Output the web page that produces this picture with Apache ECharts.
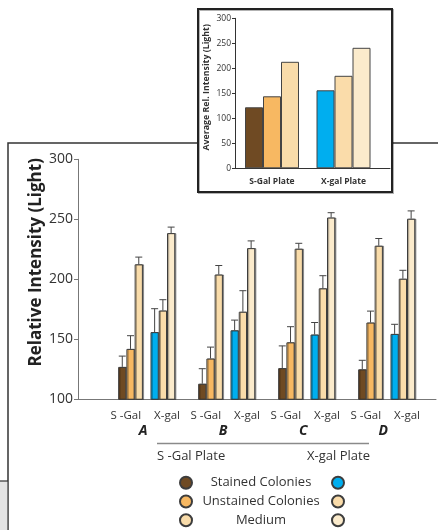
<!DOCTYPE html>
<html><head><meta charset="utf-8">
<script src="https://cdn.jsdelivr.net/npm/echarts@6/dist/echarts.min.js"></script>
<style>html,body{margin:0;padding:0;background:#fff}#c{width:438px;height:530px}</style>
</head><body><div id="c"></div>
<script>
// ---- data ----
const categories = ['A', 'B', 'C', 'D'];
const yTicks = [100, 150, 200, 250, 300];
const sGalStained   = [127, 113, 126, 125];
const sGalUnstained = [142, 134, 147.5, 164];
const sGalMedium    = [212.5, 204, 225.5, 228];
const xGalStained   = [156, 157.5, 154, 154.5];
const xGalUnstained = [174, 173, 192.5, 200.5];
const xGalMedium    = [238.5, 226, 251.5, 250.5];
const errSStained   = [9, 12.5, 18.5, 7.5];
const errSUnstained = [11, 9.5, 13, 9.5];
const errSMedium    = [6, 7.5, 4.5, 6];
const errXStained   = [19.5, 8.5, 10, 8];
const errXUnstained = [9, 17.5, 10.5, 7];
const errXMedium    = [5, 6, 4, 6.5];
const insetCategories = ['S-Gal Plate', 'X-gal Plate'];
const insetStained   = [122, 156];
const insetUnstained = [144, 185];
const insetMedium    = [213, 241];
const legendNames = ['Stained Colonies', 'Unstained Colonies', 'Medium'];

// ---- styles ----
const FONT = 'Open Sans';
const C_BROWN = '#6f4a23', C_ORANGE = '#f7b862', C_LIGHT = '#f9dcaa', C_BLUE = '#00aeef', C_XLIGHT = '#fadcaa', C_XLIGHTER = '#fbebcc';
const BW = 8.25, SP = 7.6;
const border = { borderColor: '#3d3d3d', borderWidth: 1, shadowColor: 'rgba(0,0,0,0.35)', shadowOffsetX: 1.2, shadowBlur: 0 };

function offsetOf(k) {
  const total = 6 * BW + SP;
  return -total / 2 + BW * k + BW / 2 + (k >= 3 ? SP : 0);
}

const mainSets = [
  { name: 'Stained Colonies', vals: sGalStained, errs: sGalStained.map((v, i) => v + errSStained[i]), color: C_BROWN },
  { name: 'Unstained Colonies', vals: sGalUnstained, errs: sGalUnstained.map((v, i) => v + errSUnstained[i]), color: C_ORANGE },
  { name: 'Medium', vals: sGalMedium, errs: sGalMedium.map((v, i) => v + errSMedium[i]), color: C_LIGHT },
  { name: 'X Stained Colonies', vals: xGalStained, errs: xGalStained.map((v, i) => v + errXStained[i]), color: C_BLUE },
  { name: 'X Unstained Colonies', vals: xGalUnstained, errs: xGalUnstained.map((v, i) => v + errXUnstained[i]), color: C_XLIGHT },
  { name: 'X Medium', vals: xGalMedium, errs: xGalMedium.map((v, i) => v + errXMedium[i]), color: C_XLIGHTER }
];

const series = [];
mainSets.forEach((s, k) => {
  if (k === 3) {
    series.push({ type: 'bar', name: 'spacer', xAxisIndex: 1, yAxisIndex: 1, data: categories.map(() => '-'), barWidth: SP, barGap: '0%', silent: true });
  }
  series.push({ type: 'bar', name: s.name, xAxisIndex: 1, yAxisIndex: 1, data: s.vals, barWidth: BW, barGap: '0%',
    itemStyle: Object.assign({ color: s.color }, border), z: 2 });
});
mainSets.forEach((s, k) => {
  series.push({
    type: 'custom', name: 'err' + k, xAxisIndex: 1, yAxisIndex: 1, z: 3, silent: true,
    data: categories.map((c, j) => [j, s.vals[j], s.errs[j]]),
    encode: { x: 0, y: [1, 2] },
    renderItem: function (params, api) {
      const j = api.value(0);
      const b = api.coord([j, api.value(1)]);
      const t = api.coord([j, api.value(2)]);
      const x = b[0] + offsetOf(k);
      const st = { stroke: '#444', lineWidth: 1 };
      return { type: 'group', children: [
        { type: 'line', shape: { x1: x, y1: b[1], x2: x, y2: t[1] }, style: st },
        { type: 'line', shape: { x1: x - 3.5, y1: t[1], x2: x + 3.5, y2: t[1] }, style: st }
      ] };
    }
  });
});
// inset
const insetColors = [[C_BROWN, C_BLUE], [C_ORANGE, C_XLIGHT], [C_LIGHT, C_XLIGHTER]];
[insetStained, insetUnstained, insetMedium].forEach((arr, k) => {
  series.push({ type: 'bar', name: 'inset' + k, xAxisIndex: 3, yAxisIndex: 3, barWidth: 18, barGap: '0%',
    data: arr.map((v, i) => ({ value: v, itemStyle: Object.assign({ color: insetColors[k][i] }, { borderColor: '#444', borderWidth: 1 }) })) });
});

const mainTop = 159.3, mainBottom = 530 - 399.3;
const insTop = 18.3, insBottom = 530 - 168.3;

const option = {
  animation: false,
  textStyle: { fontFamily: FONT },
  grid: [
    { left: 78, right: 2, top: mainTop, bottom: mainBottom },
    { left: 106.7, right: 438 - 426.7, top: mainTop, bottom: mainBottom },
    { left: 235, right: 48, top: insTop, bottom: insBottom },
    { left: 236.25, right: 438 - 379.25, top: insTop, bottom: insBottom }
  ],
  xAxis: [
    { gridIndex: 0, type: 'category', data: [''], axisLine: { lineStyle: { color: '#777', width: 1 } }, axisTick: { show: false }, axisLabel: { show: false } },
    { gridIndex: 1, type: 'category', data: categories, axisLine: { show: false }, axisTick: { show: false },
      axisLabel: { interval: 0, margin: 9, color: '#333', fontFamily: FONT,
        formatter: v => '{a|S -Gal}{g|}{b|X-gal}\n{c|' + v + '}',
        rich: {
          a: { fontSize: 11.5, lineHeight: 14, color: '#333', fontFamily: FONT },
          g: { width: 13, lineHeight: 14 },
          b: { fontSize: 11.5, lineHeight: 14, color: '#333', fontFamily: FONT, padding: [0, 3, 0, 0] },
          c: { fontSize: 14, lineHeight: 17, fontWeight: 'bold', fontStyle: 'italic', color: '#222', fontFamily: FONT, padding: [0, 7, 0, 0] }
        } } },
    { gridIndex: 2, type: 'category', data: [''], axisLine: { lineStyle: { color: '#333', width: 1 } }, axisTick: { show: false }, axisLabel: { show: false } },
    { gridIndex: 3, type: 'category', data: insetCategories, axisLine: { show: false }, axisTick: { show: false },
      axisLabel: { margin: 9, fontSize: 8.5, fontWeight: 'bold', color: '#333', fontFamily: FONT } }
  ],
  yAxis: [
    { gridIndex: 0, type: 'value', min: 100, max: 300, interval: 50, splitLine: { show: false },
      axisLine: { show: true, lineStyle: { color: '#777' } }, axisTick: { show: true, length: 4, lineStyle: { color: '#777' } },
      axisLabel: { fontSize: 14, color: '#333', margin: 5, fontFamily: FONT } },
    { gridIndex: 1, type: 'value', min: 100, max: 300, show: true, splitLine: { show: false },
      axisLine: { show: false }, axisTick: { show: false }, axisLabel: { show: false },
      name: 'Relative Intensity (Light)', nameLocation: 'middle', nameGap: 62.5,
      nameTextStyle: { fontSize: 17, fontWeight: 'bold', color: '#222', fontFamily: FONT, padding: [0, 0, 0, 34] } },
    { gridIndex: 2, type: 'value', min: 0, max: 300, interval: 50, splitLine: { show: false },
      axisLine: { show: true, lineStyle: { color: '#333' } }, axisTick: { show: true, length: 3, lineStyle: { color: '#333' } },
      axisLabel: { fontSize: 8.5, color: '#333', margin: 4, fontFamily: FONT },
      name: 'Average Rel. Intensity (Light)', nameLocation: 'middle', nameGap: 24,
      nameTextStyle: { fontSize: 8.8, fontWeight: 'bold', color: '#333', fontFamily: FONT, padding: [0, 0, 0, 12] } },
    { gridIndex: 3, type: 'value', min: 0, max: 300, show: false, splitLine: { show: false } }
  ],
  legend: [
    { data: legendNames, orient: 'vertical', left: 179, top: 475.7, padding: 0, height: 60, icon: 'circle', itemWidth: 12, itemHeight: 12, itemGap: 4.8,
      selectedMode: false, formatter: n => '{t|' + n + '}',
      itemStyle: { shadowColor: 'transparent' },
      textStyle: { rich: { t: { width: 128, height: 12, lineHeight: 12, align: 'center', fontSize: 13, color: '#333', fontFamily: FONT } } } },
    { data: mainSets.slice(3).map(s => s.name), orient: 'vertical', left: 331, top: 475.7, padding: 0, height: 60, icon: 'circle', itemWidth: 12, itemHeight: 12, itemGap: 4.8,
      itemStyle: { shadowColor: 'transparent' },
      selectedMode: false, formatter: () => '' }
  ],
  graphic: [
    { type: 'polyline', shape: { points: [[8, 530], [8, 143], [198, 143]] }, style: { stroke: '#333', lineWidth: 1.5, fill: null } },
    { type: 'line', shape: { x1: 392, y1: 143, x2: 438, y2: 143 }, style: { stroke: '#333', lineWidth: 1.5 } },
    { type: 'rect', shape: { x: 0, y: 481, width: 7.2, height: 49 }, style: { fill: '#e4e4e4' } },
    { type: 'line', shape: { x1: 0, y1: 481, x2: 8, y2: 481 }, style: { stroke: '#333', lineWidth: 1.2 } },
    { type: 'rect', shape: { x: 198, y: 9, width: 194, height: 183 }, style: { fill: null, stroke: '#222', lineWidth: 2, shadowColor: 'rgba(0,0,0,0.3)', shadowOffsetX: 1, shadowOffsetY: 1 } },
    { type: 'line', shape: { x1: 157, y1: 443.5, x2: 369, y2: 443.5 }, style: { stroke: '#8a8a8a', lineWidth: 1.5 } },
    { type: 'text', x: 157, y: 456.7, style: { text: 'S -Gal Plate', fontSize: 13, fontFamily: FONT, fill: '#333', align: 'left', verticalAlign: 'middle' } },
    { type: 'text', x: 370, y: 456.7, style: { text: 'X-gal Plate', fontSize: 13, fontFamily: FONT, fill: '#333', align: 'right', verticalAlign: 'middle' } }
  ],
  series: series
};
const chart = echarts.init(document.getElementById('c'), null, { renderer: 'canvas' });
chart.setOption(option);
</script></body></html>
